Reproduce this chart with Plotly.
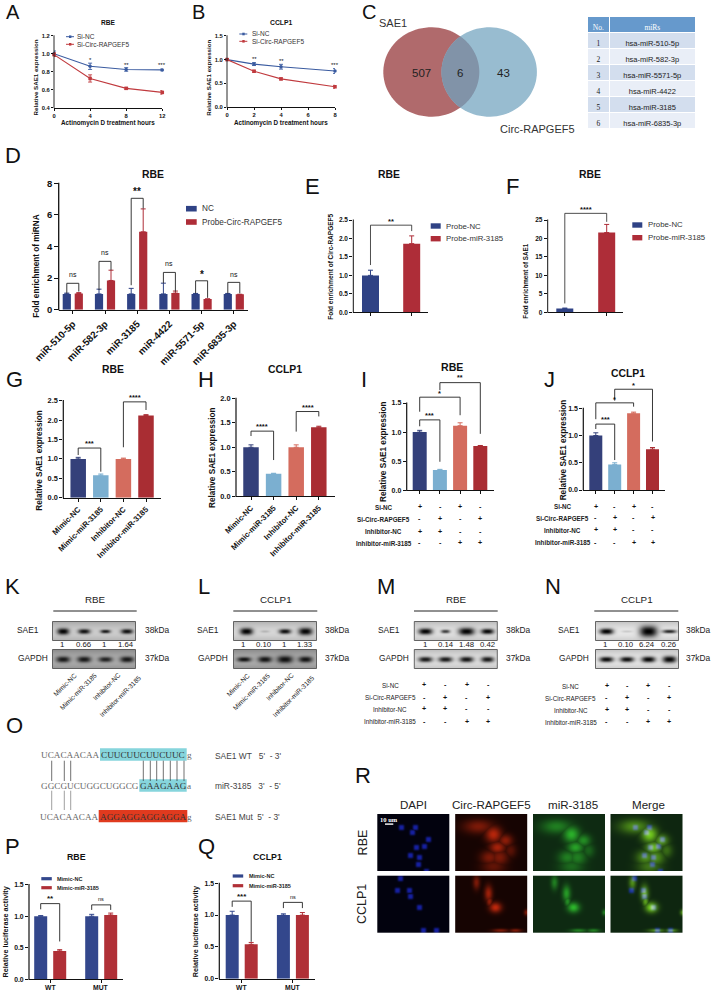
import numpy as np
import plotly.graph_objects as go

W, H = 711, 991
SANS = "Liberation Sans"
SERIF = "Liberation Serif"
BLUE = "#2F4285"
RED = "#AE2D38"
Q_COLORS = ["#34407A", "#7BAFD0", "#D46C5E", "#A92D33"]

# ---- data -------------------------------------------------------------
A_hours = [0, 4, 8, 12]
A_nc = [1.0, 0.86, 0.825, 0.82]
A_nc_err = [0.03, 0.035, 0.02, 0.01]
A_si = [0.99, 0.725, 0.615, 0.57]
A_si_err = [0.02, 0.04, 0.01, 0.02]
B_hours = [0, 2, 4, 8]
B_nc = [1.0, 0.905, 0.85, 0.76]
B_nc_err = [0.02, 0.03, 0.05, 0.05]
B_si = [1.0, 0.755, 0.595, 0.43]
B_si_err = [0.02, 0.02, 0.02, 0.03]

table_no = ["1", "2", "3", "4", "5", "6"]
table_mirs = ["hsa-miR-510-5p", "hsa-miR-582-3p", "hsa-miR-5571-5p",
              "hsa-miR-4422", "hsa-miR-3185", "hsa-miR-6835-3p"]

D_labels = ["miR-510-5p", "miR-582-3p", "miR-3185", "miR-4422", "miR-5571-5p", "miR-6835-3p"]
D_nc = [1, 1, 1, 1, 1, 1]
D_nc_err = [0.05, 0.3, 0.35, 0.68, 0.03, 0.03]
D_probe = [1.03, 1.85, 4.93, 1.05, 0.68, 0.97]
D_probe_err = [0.05, 0.65, 1.45, 0.13, 0.0, 0.0]

E_vals = [1.0, 1.86]
E_errs = [0.14, 0.21]
F_vals = [1.0, 21.6]
F_errs = [0.15, 2.2]

GH_labels = ["Mimic-NC", "Mimic-miR-3185", "Inhibitor-NC", "Inhibitor-miR-3185"]
G_vals = [1.0, 0.58, 1.0, 2.12]
G_errs = [0.04, 0.03, 0.02, 0.02]
H_vals = [1.0, 0.46, 1.0, 1.41]
H_errs = [0.05, 0.01, 0.05, 0.02]
I_vals = [1.0, 0.35, 1.11, 0.76]
I_errs = [0.03, 0.01, 0.05, 0.01]
J_vals = [1.0, 0.47, 1.41, 0.75]
J_errs = [0.05, 0.03, 0.02, 0.03]

sign_rows = ["Si-NC", "Si-Circ-RAPGEF5", "Inhibitor-NC", "Inhibitor-miR-3185"]
sign_vals = [["+", "-", "+", "-"], ["-", "+", "-", "+"], ["+", "+", "-", "-"], ["-", "-", "+", "+"]]

P_labels = ["WT", "MUT"]
P_nc = [1.0, 1.0]
P_nc_err = [0.01, 0.03]
P_mimic = [0.45, 1.02]
P_mimic_err = [0.02, 0.03]
Q_nc = [1.0, 1.0]
Q_nc_err = [0.06, 0.02]
Q_mimic = [0.54, 1.0]
Q_mimic_err = [0.03, 0.04]

K_quant = ["1", "0.66", "1", "1.64"]
L_quant = ["1", "0.10", "1", "1.33"]
M_quant = ["1", "0.14", "1.48", "0.42"]
N_quant = ["1", "0.10", "6.24", "0.26"]

# ---- figure plumbing ---------------------------------------------------
fig = go.Figure()
annots, shapes = [], []
fig.update_layout(
    width=W, height=H, margin=dict(l=0, r=0, t=0, b=0, pad=0, autoexpand=False), autosize=False,
    paper_bgcolor="white", plot_bgcolor="rgba(0,0,0,0)", showlegend=False,
    barmode="overlay", font=dict(family=SANS, color="#111"),
    xaxis=dict(domain=[0, 1], range=[0, W], visible=False, fixedrange=True, automargin=False),
    yaxis=dict(domain=[0, 1], range=[H, 0], visible=False, fixedrange=True, automargin=False),
)
axis_n = [1]


def fx(x):
    return x / W


def fy(y):
    return 1 - y / H


def text(x, y, s, size=8, bold=False, color="#111", anchor="center", angle=0, family=SANS, vanchor="middle"):
    if bold:
        s = "<b>" + s + "</b>"
    annots.append(dict(x=fx(x), y=fy(y), xref="paper", yref="paper", text=s, showarrow=False,
                       font=dict(size=size, color=color, family=family), xanchor=anchor,
                       yanchor=vanchor, textangle=angle, borderpad=0, borderwidth=0))


def rect(x0, y0, x1, y1, color, line=None, lw=1):
    shapes.append(dict(type="rect", xref="paper", yref="paper", x0=fx(x0), x1=fx(x1), y0=fy(y0), y1=fy(y1),
                       fillcolor=color, line=dict(color=line or color, width=lw if line else 0), layer="above"))


def hline(x0, x1, y, color="#111", lw=1):
    shapes.append(dict(type="line", xref="paper", yref="paper", x0=fx(x0), x1=fx(x1), y0=fy(y), y1=fy(y),
                       line=dict(color=color, width=lw), layer="above"))


def vline(x, y0, y1, color="#333", lw=0.7):
    shapes.append(dict(type="line", xref="paper", yref="paper", x0=fx(x), x1=fx(x), y0=fy(y0), y1=fy(y1),
                       line=dict(color=color, width=lw), layer="above"))


def panel(px0, px1, py_top, py_bot, xrange, yrange, yticks, ytext=None, xticks=None, xtext=None,
          tsize=7, xtsize=None, angle=None, lw=1.2, ticklen=3, headroom=1.0):
    axis_n[0] += 1
    n = axis_n[0]
    common = dict(showgrid=False, zeroline=False, linecolor="#111", linewidth=lw, automargin=False,
                  ticks="outside", ticklen=ticklen, tickwidth=lw, tickcolor="#111", fixedrange=True)
    # extra headroom above the top tick so brackets are not clipped; the axis line itself stops at the top tick
    y_ext = yrange[0] + (yrange[1] - yrange[0]) * headroom
    py_ext = py_bot - (py_bot - py_top) * headroom
    fig.layout[f"xaxis{n}"] = dict(domain=[fx(px0), fx(px1)], range=xrange, anchor=f"y{n}", showline=True,
                                   tickmode="array", tickvals=xticks if xticks is not None else [],
                                   ticktext=xtext if xtext is not None else [],
                                   tickangle=angle if angle is not None else 0,
                                   tickfont=dict(size=xtsize or tsize, family=SANS, color="#111", weight="bold"),
                                   **common)
    fig.layout[f"yaxis{n}"] = dict(domain=[fy(py_bot), fy(py_ext)], range=[yrange[0], y_ext], anchor=f"x{n}",
                                   showline=False, tickmode="array", tickvals=yticks,
                                   ticktext=ytext if ytext is not None else [str(t) for t in yticks],
                                   tickfont=dict(size=tsize, family=SANS, color="#111", weight="bold"),
                                   **common)
    vline(px0, py_top - lw / 2, py_bot + lw / 2, color="#111", lw=lw)
    return f"x{n}", f"y{n}"


def bar(ax, xs, ys, errs, color, width):
    fig.add_trace(go.Bar(x=xs, y=ys, width=width, marker=dict(color=color, line=dict(width=0)),
                         error_y=dict(type="data", symmetric=False, array=errs, arrayminus=[0] * len(errs),
                                      color=color, thickness=1, width=2.5),
                         xaxis=ax[0], yaxis=ax[1], hoverinfo="skip"))


def bracket(ax, xl, xr, yl, ytop, yr, label, ylabel, size=8, lw=0.9, color="#222"):
    fig.add_trace(go.Scatter(x=[xl, xl, xr, xr], y=[yl, ytop, ytop, yr], mode="lines",
                             line=dict(color=color, width=lw), cliponaxis=False,
                             xaxis=ax[0], yaxis=ax[1], hoverinfo="skip"))
    annots.append(dict(x=(xl + xr) / 2, y=ylabel, xref=ax[0], yref=ax[1], text=label, showarrow=False,
                       font=dict(size=size, family=SANS, color="#111"), xanchor="center", yanchor="middle"))


def bar_range(px0, px1, c0, spacing):
    return [(px0 - c0) / spacing, (px1 - c0) / spacing]


# ---- lines A / B -------------------------------------------------------
def line_panel(ax, xs, s1, e1, s2, e2):
    for ys, es, col, sym in ((s1, e1, "#3A5BA0", "circle"), (s2, e2, "#C03A3E", "square")):
        fig.add_trace(go.Scatter(x=xs, y=ys, mode="lines+markers", cliponaxis=False,
                                 line=dict(color=col, width=1.1),
                                 marker=dict(color=col, size=3.5, symbol=sym),
                                 error_y=dict(type="data", array=es, color=col, thickness=0.9, width=2),
                                 xaxis=ax[0], yaxis=ax[1], hoverinfo="skip"))


def star(ax, x, y, s, size=6):
    annots.append(dict(x=x, y=y, xref=ax[0], yref=ax[1], text=s, showarrow=False,
                       font=dict(size=size, family=SANS, color="#111"), xanchor="center", yanchor="middle"))


axA = panel(54, 162.3, 35.7, 107.7, [0, 12], [0.4, 1.2], [0.4, 0.6, 0.8, 1.0, 1.2],
            ["0.4", "0.6", "0.8", "1.0", "1.2"], [0, 4, 8, 12], ["0", "4", "8", "12"], tsize=5.8, lw=0.9, ticklen=2)
line_panel(axA, A_hours, A_nc, A_nc_err, A_si, A_si_err)
for xx, yy, s in [(4, 0.93, "*"), (8, 0.88, "**"), (12, 0.88, "***")]:
    star(axA, xx, yy, s)
axB = panel(227, 335, 35.7, 107.3, [0, 8], [0, 1.5], [0, 0.5, 1.0, 1.5],
            ["0.0", "0.5", "1.0", "1.5"], [0, 2, 4, 6, 8], ["0", "2", "4", "6", "8"], tsize=5.8, lw=0.9, ticklen=2)
line_panel(axB, B_hours, B_nc, B_nc_err, B_si, B_si_err)
for xx, yy, s in [(2, 1.02, "**"), (4, 0.96, "**"), (8, 0.89, "***")]:
    star(axB, xx, yy, s)
text(108, 23, "RBE", 6.6, True)
text(281, 23, "CCLP1", 6.8, True)
text(108, 122.7, "Actinomycin D treatment hours", 6.3, True)
text(281, 122.7, "Actinomycin D treatment hours", 6.3, True)
text(35.7, 77.7, "Relative SAE1 expression", 6.2, True, angle=-90)
text(209, 77.7, "Relative SAE1 expression", 6.2, True, angle=-90)
for (x0, y1, y2, xt) in [(66, 36.7, 44.3, 77.3), (239.3, 34, 41.3, 251.7)]:
    hline(x0, x0 + 8, y1, "#3A5BA0", 1)
    hline(x0, x0 + 8, y2, "#C03A3E", 1)
    rect(x0 + 3, y1 - 1.3, x0 + 5.4, y1 + 1.3, "#3A5BA0")
    rect(x0 + 3, y2 - 1.3, x0 + 5.4, y2 + 1.3, "#C03A3E")
    text(xt, y1, "Si-NC", 6.5, anchor="left", color="#333")
    text(xt, y2, "Si-Circ-RAPGEF5", 6.5, anchor="left", color="#333")


# ---- Venn C ------------------------------------------------------------
def ellipse(cx, cy, rx, ry, a0=0.0, a1=2 * np.pi, n=90):
    t = np.linspace(a0, a1, n)
    return cx + rx * np.cos(t), cy + ry * np.sin(t)


lx, ly = ellipse(431.3, 72, 48, 44.7)
rx, ry = ellipse(489.2, 72, 47.7, 44.7)
fig.add_trace(go.Scatter(x=lx, y=ly, fill="toself", fillcolor="#B06A6C", mode="none", hoverinfo="skip"))
fig.add_trace(go.Scatter(x=rx, y=ry, fill="toself", fillcolor="#98BCD0", mode="none", hoverinfo="skip"))
dth = np.arccos((489.2 - 431.3) / 2 / 48)
a1x, a1y = ellipse(431.3, 72, 48, 44.7, -dth, dth)
dth2 = np.arccos((489.2 - 431.3) / 2 / 47.7)
a2x, a2y = ellipse(489.2, 72, 47.7, 44.7, np.pi - dth2, np.pi + dth2)
fig.add_trace(go.Scatter(x=np.r_[a1x, a2x], y=np.r_[a1y, a2y], fill="toself", fillcolor="#8193A8",
                         mode="none", hoverinfo="skip"))
text(421.5, 72.5, "507", 11.5, color="#222")
text(459.5, 72.5, "6", 11.5, color="#222")
text(503.5, 72.5, "43", 11.5, color="#222")
text(392.5, 23.5, "SAE1", 11, color="#333")
text(537, 128.5, "Circ-RAPGEF5", 11, color="#333")

# ---- table -------------------------------------------------------------
fig.add_trace(go.Table(
    domain=dict(x=[fx(587.3), fx(695.7)], y=[fy(134), fy(16.3)]),
    columnwidth=[22, 86],
    header=dict(values=["No.", "miRs"], height=16, fill_color="#6699CC", line=dict(color="white", width=1),
                font=dict(size=7.5, color="white", family=SERIF), align="center"),
    cells=dict(values=[table_no, table_mirs], height=16, line=dict(color="white", width=1),
               fill_color=[["#D3DEEE", "#E9EEF7"] * 3] * 2, align="center",
               font=dict(size=7.5, color="#222", family=[SERIF, SANS]))))

# ---- D -----------------------------------------------------------------
c, s = 72.8, 32.2
axD = panel(58.7, 247.7, 183.3, 309.7, bar_range(58.7, 247.7, c, s), [0, 8], [0, 2, 4, 6, 8],
            None, list(range(6)), D_labels, tsize=9.5, xtsize=9.8, angle=-45, lw=1.3, ticklen=3.5)
idx = np.arange(6)
o = 6 / s
bar(axD, idx - o, D_nc, D_nc_err, BLUE, 8.2 / s)
bar(axD, idx + o, D_probe, D_probe_err, RED, 8.2 / s)
D_brackets = [(1.03, 1.67, 1.15, "ns", 2.2), (1.25, 3.06, 2.5, "ns", 3.6), (1.55, 7.05, 6.4, "<b>**</b>", 7.45),
              (1.67, 2.36, 1.15, "ns", 2.9), (1.03, 1.83, 0.75, "<b>*</b>", 2.2), (1.03, 1.73, 1.03, "ns", 2.25)]
for i, (yl, yt, yr, lb, ylb) in enumerate(D_brackets):
    bracket(axD, i - o, i + o, yl, yt, yr, lb, ylb, size=7 if lb == "ns" else 10)
text(153.3, 174.7, "RBE", 10.4, True)
text(36.7, 266, "Fold enrichment of miRNA", 8.2, True, angle=-90)
for yy, col, lb in [(208.7, BLUE, "NC"), (222, RED, "Probe-Circ-RAPGEF5")]:
    rect(186, yy - 2.8, 196.7, yy + 2.8, col)
    text(202, yy, lb, 8.2, anchor="left", color="#333")

# ---- E / F --------------------------------------------------------------
c, s = 370.5, 41.2
axE = panel(353.3, 428.3, 220, 312.3, bar_range(353.3, 428.3, c, s), [0, 2.5], [0, 0.5, 1.0, 1.5, 2.0, 2.5],
            ["0.0", "0.5", "1.0", "1.5", "2.0", "2.5"], [0, 1], ["", ""], tsize=6.5, lw=1, headroom=1.3)
for i in range(2):
    bar(axE, [i], [E_vals[i]], [E_errs[i]], [BLUE, RED][i], 17 / s)
bracket(axE, 0, 1, 1.28, 2.36, 2.2, "<b>**</b>", 2.46, size=7.5, lw=0.8)
text(389, 174.7, "RBE", 10.4, True)
text(331, 266.7, "Fold enrichment of Circ-RAPGEF5", 6.5, True, angle=-90)
c, s = 564.8, 41.9
axF = panel(547.7, 623.3, 220, 312.3, bar_range(547.7, 623.3, c, s), [0, 25], [0, 5, 10, 15, 20, 25],
            None, [0, 1], ["", ""], tsize=6.5, lw=1, headroom=1.3)
for i in range(2):
    bar(axF, [i], [F_vals[i]], [F_errs[i]], [BLUE, RED][i], 17 / s)
bracket(axF, 0, 1, 2.4, 26.8, 24.5, "<b>****</b>", 27.9, size=7.5, lw=0.8)
text(589.7, 174.7, "RBE", 10.4, True)
text(526, 281.7, "Fold enrichment of SAE1", 6.3, True, angle=-90)
for x0, xt, y1, y2 in [(430.7, 445.7, 226, 238.7), (632.3, 647.7, 225, 237.7)]:
    for yy, col, lb in [(y1, BLUE, "Probe-NC"), (y2, RED, "Probe-miR-3185")]:
        rect(x0, yy - 2.7, x0 + 10, yy + 2.7, col)
        text(xt, yy, lb, 7.8, anchor="left", color="#333")

# ---- G / H / I / J ---------------------------------------------------------
c, s = 78.2, 22.6
axG = panel(63.3, 160.7, 400.7, 497.7, bar_range(63.3, 160.7, c, s), [0, 2.5], [0, 0.5, 1.0, 1.5, 2.0, 2.5],
            ["0.0", "0.5", "1.0", "1.5", "2.0", "2.5"], list(range(4)), GH_labels, tsize=7.4, xtsize=7.8, angle=-45,
            headroom=1.2)
for i in range(4):
    bar(axG, [i], [G_vals[i]], [G_errs[i]], Q_COLORS[i], 15.5 / s)
bracket(axG, 0, 1, 1.1, 1.28, 0.67, "<b>***</b>", 1.39, size=7.5)
bracket(axG, 2, 3, 1.3, 2.47, 2.26, "<b>****</b>", 2.58, size=7.5)
text(113, 369, "RBE", 10.4, True)
text(38.7, 460, "Relative SAE1 expression", 8.2, True, angle=-90)

c, s = 251, 22.6
axH = panel(236, 335, 398.3, 496.3, bar_range(236, 335, c, s), [0, 2], [0, 0.5, 1.0, 1.5, 2.0],
            ["0.0", "0.5", "1.0", "1.5", "2.0"], list(range(4)), GH_labels, tsize=7.4, xtsize=7.8, angle=-45,
            headroom=1.2)
for i in range(4):
    bar(axH, [i], [H_vals[i]], [H_errs[i]], Q_COLORS[i], 15.5 / s)
bracket(axH, 0, 1, 1.23, 1.33, 0.74, "<b>****</b>", 1.42, size=7.5)
bracket(axH, 2, 3, 1.32, 1.73, 1.63, "<b>****</b>", 1.82, size=7.5)
text(285, 369, "CCLP1", 10.4, True)
text(212, 458, "Relative SAE1 expression", 8.2, True, angle=-90)

c, s = 419.7, 20.2
axI = panel(406.7, 494, 403, 490.3, bar_range(406.7, 494, c, s), [0, 1.5], [0, 0.5, 1.0, 1.5],
            ["0.0", "0.5", "1.0", "1.5"], list(range(4)), [""] * 4, tsize=7, headroom=1.5)
for i in range(4):
    bar(axI, [i], [I_vals[i]], [I_errs[i]], Q_COLORS[i], 14 / s)
bracket(axI, 0, 1, 1.10, 1.21, 0.49, "<b>***</b>", 1.28, size=7.5)
bracket(axI, 0, 2, 1.35, 1.6, 1.29, "<b>*</b>", 1.67, size=7.5)
bracket(axI, 1, 3, 1.72, 1.85, 0.97, "<b>**</b>", 1.93, size=7)
text(452, 367, "RBE", 10.6, True)
text(383.3, 451.7, "Relative SAE1 expression", 8.2, True, angle=-90)

c, s = 595.8, 18.9
axJ = panel(583.3, 665, 408.3, 490, bar_range(583.3, 665, c, s), [0, 1.5], [0, 0.5, 1.0, 1.5],
            ["0.0", "0.5", "1.0", "1.5"], list(range(4)), [""] * 4, tsize=7, headroom=1.5)
for i in range(4):
    bar(axJ, [i], [J_vals[i]], [J_errs[i]], Q_COLORS[i], 13 / s)
bracket(axJ, 0, 1, 1.12, 1.21, 0.55, "<b>***</b>", 1.29, size=7.5)
bracket(axJ, 0, 2, 1.3, 1.6, 1.53, "<b>*</b>", 1.67, size=7.5)
bracket(axJ, 1, 3, 1.64, 1.85, 0.89, "<b>*</b>", 1.92, size=7.5)
text(628, 373.7, "CCLP1", 10.4, True)
text(563.3, 450, "Relative SAE1 expression", 8.2, True, angle=-90)


def sign_table(xc, xs, ys, size, bold):
    for r, (yy, lb) in enumerate(zip(ys, sign_rows)):
        text(xc, yy, lb, size, bold, color="#222")
        for xx, sg in zip(xs, sign_vals[r]):
            text(xx, yy, sg, size + 0.8, True, color="#111")


sign_table(384, [419.7, 440, 460, 480], [507, 519, 531.7, 543.3], 6.3, True)
sign_table(562.5, [595.7, 614.7, 633.7, 652.7], [506.7, 518.3, 530.3, 542.7], 6.3, True)
sign_table(390, [424, 445, 466.7, 488.3], [685.3, 697.7, 709.3, 721.7], 6.3, False)
sign_table(570.7, [606.7, 627.3, 648.3, 669.3], [686, 698, 710, 722], 6.3, False)


# ---- western blots (synthetic pictures) ------------------------------------
def blot(w, h, bg, lanes, hw, hh, dark):
    """small grey picture: one blurred dark band per lane"""
    yy, xx = np.mgrid[0:h, 0:w]
    v = np.full((h, w), float(bg))
    v -= 22 * (np.abs(yy - h / 2) / (h / 2)) ** 2
    v += 10 * np.exp(-((yy - h / 2) / (h / 3.2)) ** 2)
    for lx_, hw_, hh_, d_ in zip(lanes, hw, hh, dark):
        prof = np.exp(-np.abs((xx - lx_) / hw_) ** 2.6 - np.abs((yy - h / 2 + 0.5) / (hh_ * 1.25)) ** 2.2)
        v = v * (1 - d_ * prof)
    v = np.clip(v, 0, 255)
    return np.dstack([v, v, v]).astype(np.uint8)


def add_image(z, x0, y0):
    fig.add_trace(go.Image(z=z, x0=x0 + 0.5, y0=y0 + 0.5, dx=1, dy=1, xaxis="x", yaxis="y", hoverinfo="skip"))


blots = [
    dict(x=52.5, title="RBE", line=(53.3, 136.7), tx=95.7, sae=28, gap=32.7, kda=157.7, q=K_quant,
         qx=[62, 83, 104, 126], sae_p=(195, [9.7, 30.7, 52, 73.5], [6, 6, 5, 6], [2.6, 2, 1.5, 2], [.97, .9, .85, .9]),
         gap_p=(165, [9.7, 30.7, 52, 73.5], [7, 7, 7, 7], [2.5, 2.5, 2.2, 2.5], [.85, .85, .8, .85])),
    dict(x=233.5, title="CCLP1", line=(233.3, 317.3), tx=276.3, sae=208.3, gap=213.3, kda=337.7, q=L_quant,
         qx=[243.3, 263.7, 283.7, 304.3], sae_p=(205, [12, 30.5, 50.5, 71], [6.5, 4.5, 6, 7], [2.8, 1.1, 2, 3], [.98, .15, .92, .97]),
         gap_p=(165, [9.7, 30.5, 50.5, 71], [7, 7, 8, 7], [2, 2.5, 3, 2.5], [.88, .88, .9, .88])),
    dict(x=414.3, title="RBE", line=(414, 497.7), tx=456, sae=389, gap=394, kda=518.3, q=M_quant,
         qx=[425, 445.7, 466.7, 487.3], sae_p=(215, [11, 31, 52, 73], [7, 4.5, 8, 6.5], [2.5, 1.5, 3, 2.2], [.98, .7, .98, .95]),
         gap_p=(215, [11, 31, 52, 73], [7, 7, 7, 6.5], [2.2, 2.2, 2.3, 2.3], [.88, .88, .9, .88])),
    dict(x=595.5, title="CCLP1", line=(594.3, 678.3), tx=637.3, sae=569.3, gap=574.3, kda=698.3, q=N_quant,
         qx=[605, 626, 646.7, 668.3], sae_p=(222, [10, 30.5, 52, 73], [7, 5.5, 9, 7], [2.4, 1, 4.5, 1.5], [.98, .12, 1, .8]),
         gap_p=(222, [10, 30.5, 52, 73], [7, 7, 7, 7], [2.2, 2.2, 2.4, 2.8], [.94, .92, .96, .96])),
]
for b in blots:
    for (y0, p) in ((621.5, b["sae_p"]), (649.5, b["gap_p"])):
        add_image(blot(83, 19, p[0], p[1], p[2], p[3], p[4]), b["x"], y0)
        rect(b["x"], y0, b["x"] + 83, y0 + 19, "rgba(0,0,0,0)", line="#444", lw=0.8)
    hline(b["line"][0], b["line"][1], 611, "#222", 1)
    text(b["tx"], 599, b["title"], 9.8, color="#222")
    text(b["sae"], 629.5, "SAE1", 8.4, color="#222")
    text(b["gap"], 657.5, "GAPDH", 8.4, color="#222")
    text(b["kda"], 629.5, "38kDa", 8.4, color="#222")
    text(b["kda"], 657.5, "37kDa", 8.4, color="#222")
    for xx, q in zip(b["qx"], b["q"]):
        text(xx, 644.7, q, 7.8, color="#222")
for offs in ([65, 78.3, 106.7, 120], [238.3, 251.7, 280, 293.3]):
    for xx, yy, lb in zip(offs, [684.3, 691.7, 686.7, 696.7], GH_labels):
        text(xx, yy, lb, 6.7, angle=-45, color="#222")

# ---- O --------------------------------------------------------------------
TEAL = "#86D5DC"
SEQ_C = "#666"
rect(100, 748.3, 186.7, 760.7, TEAL)
rect(139.3, 779.3, 186.7, 791.7, TEAL)
rect(98.7, 810, 187.3, 822.3, "#E03A1E")
rows = [(755, "UCACAACAA", "CUUCUUCUUCUUC", "g", 100, 186.7),
        (785.6, "GGCGUCUGGCUGGCG", "GAAGAAG", "a", 139.3, 186.7),
        (816.5, "UCACAACAA", "AGGAGGAGGAGGA", "g", 98.7, 187.3)]
for yy, a, m, z, x0, x1 in rows:
    text(x0, yy, a, 9.2, anchor="right", family=SERIF, color=SEQ_C)
    text((x0 + x1) / 2, yy, m, 9.2, family=SERIF, color="#333")
    text(x1, yy, z, 9.2, anchor="left", family=SERIF, color=SEQ_C)
for xx in [51.7, 64.3, 70.7, 143.3, 150.3, 156.7, 163.3, 170.3, 177, 184]:
    vline(xx, 760.7, 781, lw=0.7)
for xx in [51.7, 64.3, 70.7]:
    vline(xx, 790.7, 810, color="#777", lw=0.7)
for yy, lb in [(755.7, "SAE1 WT   5'  - 3'"), (785.7, "miR-3185   3'  - 5'"), (816.7, "SAE1 Mut  5'  - 3'")]:
    text(215, yy, lb.replace(" ", "&nbsp;"), 8.4, anchor="left", color="#444")

# ---- P / Q --------------------------------------------------------------------
c, s = 50.2, 51
axP = panel(29, 123.3, 884.7, 979.3, bar_range(29, 123.3, c, s), [0, 1.5], [0, 0.5, 1.0, 1.5],
            ["0.0", "0.5", "1.0", "1.5"], [0, 1], ["", ""], tsize=6.8)
o = 9.5 / s
bar(axP, np.arange(2) - o, P_nc, P_nc_err, "#33478C", 13 / s)
bar(axP, np.arange(2) + o, P_mimic, P_mimic_err, "#B03037", 13 / s)
bracket(axP, -o, o, 1.11, 1.2, 0.6, "<b>**</b>", 1.28, size=8)
bracket(axP, 1 - o, 1 + o, 1.1, 1.18, 1.1, "ns", 1.28, size=5.5)
c, s = 241.7, 51.2
axQ = panel(219.3, 315, 883.3, 978.7, bar_range(219.3, 315, c, s), [0, 1.5], [0, 0.5, 1.0, 1.5],
            ["0.0", "0.5", "1.0", "1.5"], [0, 1], ["", ""], tsize=6.8)
o = 9.5 / s
bar(axQ, np.arange(2) - o, Q_nc, Q_nc_err, "#33478C", 13 / s)
bar(axQ, np.arange(2) + o, Q_mimic, Q_mimic_err, "#B03037", 13 / s)
bracket(axQ, -o, o, 1.13, 1.22, 0.58, "<b>***</b>", 1.29, size=8)
bracket(axQ, 1 - o, 1 + o, 1.11, 1.2, 1.11, "ns", 1.29, size=5.5)
for xc, lb in [(50, "WT"), (101, "MUT"), (241.7, "WT"), (292.7, "MUT")]:
    text(xc, 987.7, lb, 6.8, True)
text(76, 856.7, "RBE", 8.8, True)
text(267, 857.3, "CCLP1", 8.8, True)
text(4.5, 932, "Relative luciferase activity", 7.3, True, angle=-90)
text(195.3, 931, "Relative luciferase activity", 7.3, True, angle=-90)
for x0, xt, y1, y2 in [(41.3, 56.7, 878.7, 887.7), (232.7, 249, 876, 885.7)]:
    for yy, col, lb in [(y1, "#33478C", "Mimic-NC"), (y2, "#B03037", "Mimic-miR-3185")]:
        rect(x0, yy - 1.6, x0 + 10.5, yy + 1.6, col)
        text(xt, yy, lb, 5.5, True, anchor="left", color="#222")

# ---- R (synthetic micrographs) ------------------------------------------------------
nuclei_1 = [(24, 13), (38, 13), (35, 18), (51, 25), (47, 32), (39, 33), (33, 41), (42, 43), (41, 50), (49, 57)]
nuclei_2 = [(23, 2), (20, 14), (32, 14), (33, 20), (42, 31), (46, 54), (59, 54)]
cells_1 = [(23, 12, 15, 7, .6), (38, 20, 8, 8, .95), (50, 26, 7, 6, .7), (42, 33, 8, 6, .85), (34, 43, 9, 7, .6),
           (44, 43, 9, 8, .6), (38, 52, 12, 7, .45), (55, 36, 6, 7, .4)]
cells_2 = [(21, 6, 3.5, 7, .6), (33, 17, 4, 8, .8), (40, 31, 6, 5, 1.0), (34, 25, 3, 5, .7), (45, 54, 8, 1.8, .6),
           (60, 54, 6, 1.8, .6), (71, 36, 2.5, 3, .6)]


def field(w, h, items, power=2.0):
    yy, xx = np.mgrid[0:h, 0:w]
    out = np.zeros((h, w))
    for cx, cy, sx, sy, a in items:
        out = np.maximum(out, a * np.exp(-(np.abs((xx - cx) / sx) ** power + np.abs((yy - cy) / sy) ** power)))
    return out


def micro(r, g, b, base=(0, 0, 0)):
    arr = np.dstack([base[0] + 255 * r, base[1] + 255 * g, base[2] + 255 * b])
    return np.clip(arr, 0, 255).astype(np.uint8)


IW, IH = 72, 57
for y0, nuc, cel, row_lb, ry_ in ((814, nuclei_1, cells_1, "RBE", 842.7), (875.7, nuclei_2, cells_2, "CCLP1", 904.3)):
    nu = field(IW, IH, [(a, b_, 2.8, 2.8, 1.0) for a, b_ in nuc], 3)
    ce = field(IW, IH, cel, 2)
    add_image(micro(0.08 * nu, 0.12 * nu, 0.58 * nu, (2, 2, 14)), 377.3, y0)
    add_image(micro(0.66 * ce, 0.14 * ce, 0.04 * ce, (22, 4, 2)), 455.2, y0)
    add_image(micro(0.12 * ce, 0.55 * ce, 0.1 * ce, (14, 42, 18)), 533, y0)
    add_image(micro(0.42 * ce + 0.2 * nu * ce, 0.68 * ce, 0.06 * ce + 0.55 * nu, (14, 38, 16)), 610.5, y0)
    text(362.7, ry_, row_lb, 12.5, angle=-90, color="#222")
for xc, lb in [(413, "DAPI"), (491.3, "Circ-RAPGEF5"), (572.7, "miR-3185"), (648.3, "Merge")]:
    text(xc, 804, lb, 11.6, color="#222")
text(389, 819, "10 um", 6.5, True, color="white", family=SERIF)
rect(385, 823.4, 393.3, 824.8, "white")

# ---- panel letters ---------------------------------------------------------------
letters = [("A", 13, 11.5, 20), ("B", 198, 11.5, 20), ("C", 369, 11.5, 20), ("D", 13, 155, 22), ("E", 312, 186.7, 22),
           ("F", 512.3, 186.7, 22), ("G", 14, 379.3, 22), ("H", 205.7, 379.3, 22), ("I", 364, 379, 22),
           ("J", 549, 379, 22), ("K", 12.7, 586, 22), ("L", 204, 586, 22), ("M", 386, 586, 22), ("N", 552.7, 586, 22),
           ("O", 14, 725.7, 22), ("P", 12.7, 846.7, 22), ("Q", 206.7, 846.7, 22), ("R", 363.3, 775, 22)]
for lb, xx, yy, sz in letters:
    text(xx, yy, lb, sz, color="#111")

fig.update_layout(annotations=annots, shapes=shapes)
fig.write_html("out.html", config=dict(displayModeBar=False),
               post_script="document.body.style.margin='0';document.documentElement.style.overflow='hidden';")
